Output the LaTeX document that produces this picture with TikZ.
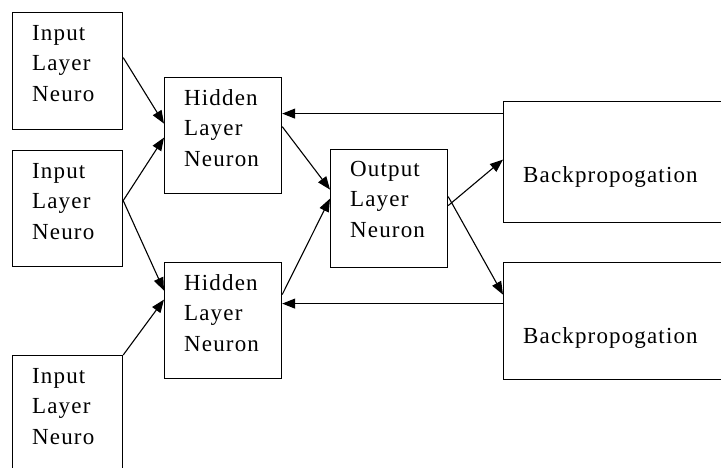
\documentclass[tikz,border=0pt]{standalone}
\usepackage{fontspec}
\setmainfont{Liberation Serif}
\newfontfamily\boxfont[LetterSpace=5]{Liberation Serif}
\usepackage{tikz}
\usetikzlibrary{arrows.meta,calc}

\tikzset{
    unit/.style={draw,line width=1.2pt,inner sep=0pt,anchor=north west},
    unittext/.style={inner sep=0pt,anchor=north west,align=left,
        font=\boxfont\fontsize{23}{30.5}\selectfont},
    link/.style={line width=1.1pt,-{Triangle[length=13pt,width=10pt]}},
}

\begin{document}
\begin{tikzpicture}[x=1pt,y=-1pt]
    \useasboundingbox (0,0) rectangle (721,468);
    \clip (0,0) rectangle (721,468);

    % input column
    \node[unit,minimum width=110pt,minimum height=117pt] (in1) at (12,12) {};
    \node[unit,minimum width=110pt,minimum height=116pt] (in2) at (12,150) {};
    \node[unit,minimum width=110pt,minimum height=130pt] (in3) at (12,355) {};
    \node[unittext] (in1t) at (32,25) {Input\\Layer\\Neuro};
    \node[unittext] (in2t) at (32,163) {Input\\Layer\\Neuro};
    \node[unittext] (in3t) at (32,368) {Input\\Layer\\Neuro};

    % hidden column
    \node[unit,minimum width=117pt,minimum height=116pt] (hid1) at (164,77) {};
    \node[unit,minimum width=117pt,minimum height=116pt] (hid2) at (164,262) {};
    \node[unittext] (hid1t) at (184,89) {Hidden\\Layer\\Neuron};
    \node[unittext] (hid2t) at (184,274) {Hidden\\Layer\\Neuron};

    % output
    \node[unit,minimum width=117pt,minimum height=118pt] (out) at (330,149) {};
    \node[unittext] (outt) at (350,161) {Output\\Layer\\Neuron};

    % backpropagation boxes run off the right side
    \node[unit,minimum width=260pt,minimum height=121pt] (bp1) at (503,101) {};
    \node[unit,minimum width=260pt,minimum height=117pt] (bp2) at (503,262) {};
    \node[unittext] (bp1t) at (523,166) {Backpropogation};
    \node[unittext] (bp2t) at (523,327) {Backpropogation};

    % input -> hidden
    \draw[link] ([yshift=13.5pt]in1.east) -- ([yshift=12pt]hid1.west);
    \draw[link] ([yshift=8pt]in2.east) -- ([yshift=-2pt]hid1.west);
    \draw[link] ([yshift=8pt]in2.east) -- ([yshift=30pt]hid2.west);
    \draw[link] (in3.north east) -- ([yshift=21pt]hid2.west);

    % hidden -> output
    \draw[link] ([yshift=9pt]hid1.east) -- ([yshift=19pt]out.west);
    \draw[link] ([yshift=26pt]hid2.east) -- ([yshift=10pt]out.west);

    % output -> backpropagation
    \draw[link] ([yshift=3pt]out.east) -- ([yshift=2.5pt]bp1.west);
    \draw[link] ([yshift=12pt]out.east) -- ([yshift=26.5pt]bp2.west);

    % error fed back to the hidden layer
    \draw[link] ([yshift=48.5pt]bp1.west) -- ([yshift=48.5pt]bp1.west -| hid1.east);
    \draw[link] ([yshift=17.5pt]bp2.west) -- ([yshift=17.5pt]bp2.west -| hid2.east);
\end{tikzpicture}
\end{document}
